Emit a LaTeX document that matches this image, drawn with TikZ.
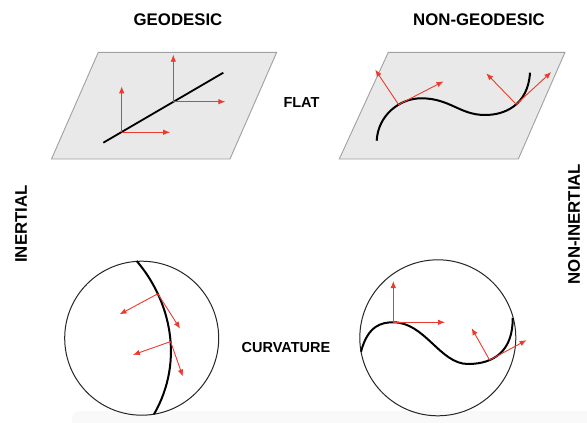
\documentclass[tikz,border=0pt]{standalone}
\usepackage{fontspec}
\setmainfont{Liberation Sans}
\usetikzlibrary{arrows.meta}
\definecolor{arrred}{RGB}{236,58,46}
\definecolor{planefill}{RGB}{233,233,233}
\definecolor{planeedge}{RGB}{160,160,160}
\tikzset{
  plane/.style={fill=planefill,draw=planeedge,line width=0.9pt,line join=miter},
  path/.style={draw=black,line width=2pt},
  vec/.style={draw=arrred,line width=0.9pt,-{Latex[length=7pt,width=5.5pt]}},
  ring/.style={draw=black!85,line width=1pt},
  biglabel/.style={font=\bfseries\fontsize{16.8}{18}\selectfont,inner sep=0pt},
  midlabel/.style={font=\bfseries\fontsize{14.5}{16}\selectfont,inner sep=0pt}
}
\begin{document}
\begin{tikzpicture}[x=1pt,y=-1pt]
\useasboundingbox (0,0) rectangle (587,423);
\fill[white] (0,0) rectangle (587,423);
% faint bottom shadow
\fill[gray!5,rounded corners=8pt] (72,411) rectangle (600,440);

% labels
\node[biglabel] (geo) at (178,20) {GEODESIC};
\node[biglabel] (ngeo) at (479,20) {NON-GEODESIC};
\node[midlabel] (flat) at (301.5,103) {FLAT};
\node[midlabel] (curv) at (286,347.5) {CURVATURE};
\node[biglabel,rotate=90] (inert) at (21,224) {INERTIAL};
\node[biglabel,rotate=90] (ninert) at (574,224) {NON-INERTIAL};

% top-left plane
\path[plane] (98.3,52.3) -- (276.7,52.3) -- (230,159) -- (51.5,159) -- cycle;
\coordinate (l1) at (103.3,142.7);
\coordinate (l2) at (223.3,72.7);
\draw[path,line width=1.8pt] (l1) -- (l2);
\coordinate (f1) at (121.7,132.3);
\coordinate (f2) at (173.3,101.7);
\draw[vec] (f1) -- ++(0,-46);
\draw[vec] (f1) -- ++(48.5,0);
\draw[vec] (f2) -- ++(0,-47);
\draw[vec] (f2) -- ++(52,0);

% top-right plane
\path[plane] (388.3,52.3) -- (565,52.3) -- (518.3,159) -- (339.3,159) -- cycle;
\draw[path] (376.7,140.7) .. controls (378,115) and (400,98) .. coordinate[pos=0.63] (g1) (421.7,98.3)
  .. controls (450,98.5) and (460,115) .. (485,115)
  .. controls (505,115) and (528,105) .. coordinate[pos=0.54] (g2) (530,72.7);
\draw[vec] (g1) -- ++(-23.3,-35);
\draw[vec] (g1) -- ++(45,-23.3);
\draw[vec] (g2) -- ++(-30,-31);
\draw[vec] (g2) -- ++(35,-32.3);

% bottom-left circle
\coordinate (c1) at (141.7,338.2);
\draw[ring] (c1) circle[radius=77];
\draw[path] (136.7,261) .. controls (170,300) and (185,360) .. coordinate[pos=0.25] (h1) coordinate[pos=0.56] (h2) (154,414.3);
\draw[vec] (h1) -- ++(-38.3,20.6);
\draw[vec] (h1) -- ++(22.3,35);
\draw[vec] (h2) -- ++(-37.7,13.3);
\draw[vec] (h2) -- ++(12.3,35);

% bottom-right circle
\coordinate (c2) at (437.8,337.8);
\draw[ring] (c2) circle[radius=78];
\coordinate (k1) at (393.3,322.3);
\draw[path] (361,351.7) .. controls (368,325) and (382,322.3) .. (k1)
  .. controls (425,322.3) and (440,364) .. (468,364)
  .. controls (495,364) and (513,350) .. coordinate[pos=0.3] (k2) (512.7,318);
\draw[vec] (k1) -- ++(0,-41.3);
\draw[vec] (k1) -- ++(51.7,0);
\draw[vec] (k2) -- ++(-18,-32);
\draw[vec] (k2) -- ++(37,-20);
\end{tikzpicture}
\end{document}
